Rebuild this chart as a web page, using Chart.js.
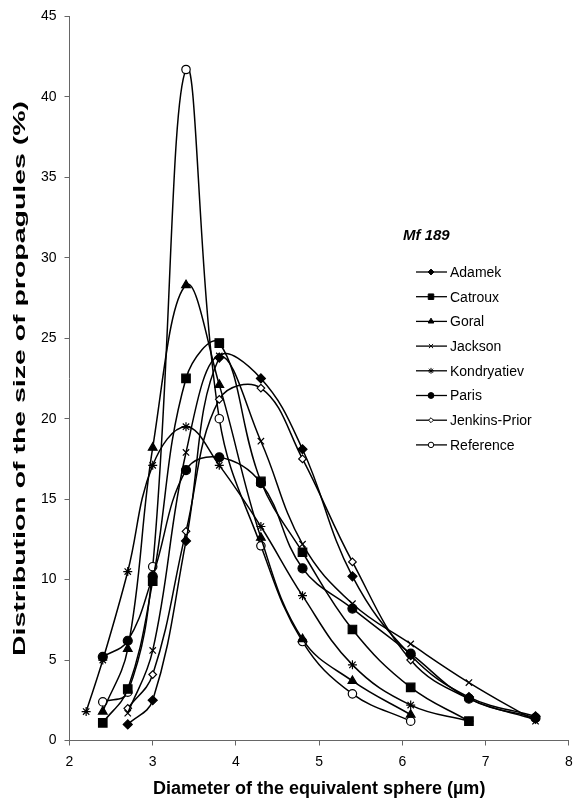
<!DOCTYPE html>
<html>
<head>
<meta charset="utf-8">
<script src="https://cdn.jsdelivr.net/npm/chart.js@4"></script>
<style>
  html, body { margin: 0; padding: 0; background: #fff; }
  #wrap { position: relative; width: 576px; height: 802px; }
</style>
</head>
<body>
<div id="wrap"><canvas id="chart"></canvas></div>
<script>
// diameters of the equivalent sphere (µm)
const diameters = [2.2, 2.4, 2.7, 3.0, 3.4, 3.8, 4.3, 4.8, 5.4, 6.1, 6.8, 7.6];

// distribution of the size of propagules (%) per method
const adamek       = [null, null, 1.0, 2.5, 12.4, 23.8, 22.5, 18.1, 10.2, 5.3, 2.7, 1.5];
const catroux      = [null, 1.1, 3.2, 9.9, 22.5, 24.7, 16.1, 11.7, 6.9, 3.3, 1.2, null];
const goral        = [null, 1.8, 5.7, 18.2, 28.3, 22.1, 12.6, 6.3, 3.7, 1.6, null, null];
const jackson      = [null, null, 1.7, 5.6, 17.9, 23.9, 18.6, 12.2, 8.5, 6.0, 3.6, 1.2];
const kondryatiev  = [1.8, 5.0, 10.5, 17.1, 19.5, 17.1, 13.3, 9.0, 4.7, 2.2, 1.2, null];
const paris        = [null, 5.2, 6.2, 10.2, 16.8, 17.6, 16.0, 10.7, 8.2, 5.4, 2.6, 1.4];
const jenkinsPrior = [null, null, 2.0, 4.1, 13.0, 21.2, 21.9, 17.5, 11.1, 5.0, 2.6, 1.3];
const reference    = [null, 2.4, 3.0, 10.8, 41.7, 20.0, 12.1, 6.15, 2.9, 1.2, null, null];

const xTicks = [2, 3, 4, 5, 6, 7, 8];
const yTicks = [0, 5, 10, 15, 20, 25, 30, 35, 40, 45];

const FONT = "Arial, 'Liberation Sans', Helvetica, sans-serif";
const Y_TITLE = "Distribution of the size of propagules (%)";

function toPoints(values) {
    const pts = [];
    values.forEach(function (v, i) {
        if (v !== null) pts.push({ x: diameters[i], y: v });
    });
    return pts;
}

function series(label, values, style, radius, fill) {
    return {
        label: label,
        data: toPoints(values),
        borderColor: "#000",
        borderWidth: 1.5,
        tension: 0.4,
        pointStyle: style,
        pointRadius: radius,
        pointBorderWidth: 1.2,
        pointBackgroundColor: fill,
        pointBorderColor: "#000"
    };
}

const datasets = [
    series("Adamek", adamek, "rectRot", 4.5, "#000"),
    series("Catroux", catroux, "rect", 6, "#000"),
    series("Goral", goral, "triangle", 5, "#000"),
    series("Jackson", jackson, "crossRot", 4.5, "#000"),
    series("Kondryatiev", kondryatiev, "star", 4.5, "#000"),
    series("Paris", paris, "circle", 4.5, "#000"),
    series("Jenkins-Prior", jenkinsPrior, "rectRot", 3.8, "#fff"),
    series("Reference", reference, "circle", 4.2, "#fff")
];

// legend, "Mf 189" label and the stretched y title
const insideLegend = {
    id: "insideLegend",
    afterDraw: function (chart) {
        const ctx = chart.ctx;
        const area = chart.chartArea;
        ctx.save();
        ctx.fillStyle = "#000";
        ctx.textBaseline = "middle";

        // y axis title, stretched along the axis like the source figure
        ctx.save();
        ctx.font = "bold 17px " + FONT;
        ctx.textAlign = "center";
        const w = ctx.measureText(Y_TITLE).width;
        ctx.translate(20, (area.top + area.bottom) / 2);
        ctx.rotate(-Math.PI / 2);
        ctx.scale(555 / w, 1);
        ctx.fillText(Y_TITLE, 0, 0);
        ctx.restore();

        ctx.textAlign = "left";
        ctx.font = "italic bold 15px " + FONT;
        ctx.fillText("Mf 189", 403, 236);

        ctx.font = "14px " + FONT;
        chart.data.datasets.forEach(function (ds, i) {
            const y = 272 + i * 24.7;
            ctx.strokeStyle = "#000";
            ctx.lineWidth = 1.3;
            ctx.beginPath();
            ctx.moveTo(416, y);
            ctx.lineTo(447, y);
            ctx.stroke();
            ctx.fillStyle = ds.pointBackgroundColor;
            ctx.lineWidth = 1;
            Chart.helpers.drawPoint(ctx, {
                pointStyle: ds.pointStyle,
                radius: ds.pointRadius * 0.65,
                rotation: 0,
                borderWidth: 1
            }, 431, y);
            ctx.fillStyle = "#000";
            ctx.fillText(ds.label, 450, y + 1);
        });
        ctx.restore();
    }
};

new Chart(document.getElementById("chart"), {
    type: "line",
    data: { datasets: datasets },
    options: {
        responsive: true,
        maintainAspectRatio: false,
        animation: false,
        layout: { padding: { top: 16, right: 1, left: 0, bottom: 0 } },
        plugins: {
            legend: { display: false },
            tooltip: { enabled: false }
        },
        scales: {
            x: {
                type: "linear",
                min: 2,
                max: 8,
                afterBuildTicks: function (scale) {
                    scale.ticks = xTicks.map(v => ({ value: v }));
                },
                afterFit: function (scale) {
                    scale.height = 61.5;
                    scale.paddingRight = 0;
                    scale.paddingLeft = 0;
                },
                grid: { drawOnChartArea: false, drawTicks: true, tickLength: 5, color: "#666" },
                border: { color: "#666", width: 1 },
                ticks: { color: "#000", padding: 8, font: { family: FONT, size: 14 }, maxRotation: 0 },
                title: {
                    display: true,
                    text: "Diameter of the equivalent sphere (µm)",
                    color: "#000",
                    font: { family: FONT, size: 18, weight: "bold" },
                    padding: { top: 4, bottom: 2 }
                }
            },
            y: {
                type: "linear",
                min: 0,
                max: 45,
                afterBuildTicks: function (scale) {
                    scale.ticks = yTicks.map(v => ({ value: v }));
                },
                afterFit: function (scale) { scale.width = 69.5; },
                grid: { drawOnChartArea: false, drawTicks: true, tickLength: 5, color: "#666" },
                border: { color: "#666", width: 1 },
                ticks: { color: "#000", padding: 8, font: { family: FONT, size: 14 } }
            }
        }
    },
    plugins: [insideLegend]
});
</script>
</body>
</html>
